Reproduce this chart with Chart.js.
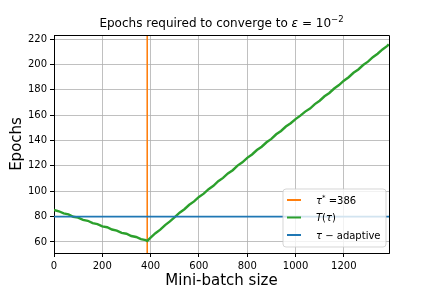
<!DOCTYPE html>
<html>
<head>
<meta charset="utf-8">
<script src="https://cdn.jsdelivr.net/npm/chart.js@4.4.0/dist/chart.umd.min.js"></script>
<style>
  html, body { margin: 0; padding: 0; background: #fff; }
  #wrap { width: 432px; height: 288px; }
</style>
</head>
<body>
<div id="wrap"><canvas id="chart" width="432" height="288"></canvas></div>
<script>
// values
const batchSizes = [0, 20, 40, 60, 80, 100, 120, 140, 160, 180, 200, 220, 240, 260, 280, 300, 320, 340, 360, 380, 386,
  400, 420, 440, 460, 480, 500, 520, 540, 560, 580, 600, 620, 640, 660, 680, 700, 720, 740, 760, 780, 800,
  820, 840, 860, 880, 900, 920, 940, 960, 980, 1000, 1020, 1040, 1060, 1080, 1100, 1120, 1140, 1160, 1180,
  1200, 1220, 1240, 1260, 1280, 1300, 1320, 1340, 1360, 1380, 1386];
const epochs = [85.3, 84.2, 82.5, 81.7, 79.9, 79.2, 77.4, 76.7, 74.8, 74.1, 72.3, 71.6, 69.8, 69.0, 67.2, 66.5, 64.7, 63.9, 62.2, 61.4, 60.8,
  63.4, 66.9, 69.7, 73.3, 76.2, 79.6, 83.1, 85.8, 89.3, 92.0, 95.5, 98.1, 101.6, 104.3, 107.9, 110.5, 114.0, 116.6, 120.2, 122.8, 126.3,
  129.0, 132.5, 135.1, 138.6, 141.3, 144.9, 147.5, 151.0, 153.6, 156.9, 159.6, 162.8, 165.2, 168.7, 171.4, 174.9, 177.5, 181.0, 183.7,
  187.2, 189.9, 193.4, 196.0, 199.5, 202.2, 205.7, 208.4, 211.8, 214.6, 215.8];
const tauStar = 386;
const adaptiveEpochs = 80;
const xRange = [0, 1387];
const yRange = [51.3, 223.2];
const xTicks = [0, 200, 400, 600, 800, 1000, 1200];
const yTicks = [60, 80, 100, 120, 140, 160, 180, 200, 220];

const FONT = "'DejaVu Sans', sans-serif";
const ORANGE = '#ff7f0e', GREEN = '#2ca02c', BLUE = '#1f77b4';

// draw a run of text pieces (for italics / superscripts)
function drawRich(ctx, parts, x, y, align) {
    const fontOf = p => (p.it ? 'italic ' : '') + (p.size || 10) + 'px ' + FONT;
    let total = 0;
    parts.forEach(p => { ctx.font = fontOf(p); total += ctx.measureText(p.t).width; });
    let cx = align === 'center' ? x - total / 2 : x;
    ctx.textAlign = 'left';
    ctx.textBaseline = 'alphabetic';
    parts.forEach(p => {
        ctx.font = fontOf(p);
        ctx.fillText(p.t, cx, y - (p.rise || 0));
        cx += ctx.measureText(p.t).width;
    });
}

const decorPlugin = {
    id: 'decor',
    afterDatasetsDraw(chart) {
        const { ctx, chartArea: a } = chart;
        ctx.save();
        // top + right spines
        ctx.strokeStyle = '#000';
        ctx.lineWidth = 1;
        ctx.beginPath();
        ctx.moveTo(a.left, a.top + 0.5);
        ctx.lineTo(a.right + 0.5, a.top + 0.5);
        ctx.lineTo(a.right + 0.5, a.bottom);
        ctx.stroke();

        // title
        ctx.fillStyle = '#000';
        drawRich(ctx, [
            { t: 'Epochs required to converge to ', size: 12 },
            { t: 'ε', size: 12, it: true },
            { t: ' = 10', size: 12 },
            { t: '−2', size: 8.5, rise: 5 }
        ], (a.left + a.right) / 2, 27, 'center');

        // legend box
        const bx = a.right - 106, by = a.bottom - 64, bw = 103, bh = 58;
        ctx.beginPath();
        ctx.roundRect(bx, by, bw, bh, 3);
        ctx.fillStyle = 'rgba(255,255,255,0.8)';
        ctx.fill();
        ctx.strokeStyle = 'rgba(204,204,204,0.8)';
        ctx.lineWidth = 1;
        ctx.stroke();

        const rows = [
            { color: ORANGE, parts: [{ t: 'τ', it: true }, { t: '*', size: 7, rise: 4 }, { t: ' =386' }] },
            { color: GREEN, parts: [{ t: 'T', it: true }, { t: '(' }, { t: 'τ', it: true }, { t: ')' }] },
            { color: BLUE, parts: [{ t: 'τ', it: true }, { t: ' − adaptive' }] }
        ];
        rows.forEach((r, i) => {
            const ry = by + 11 + i * 17.5;
            ctx.strokeStyle = r.color;
            ctx.lineWidth = 2;
            ctx.beginPath();
            ctx.moveTo(bx + 4, ry);
            ctx.lineTo(bx + 18, ry);
            ctx.stroke();
            ctx.fillStyle = '#000';
            drawRich(ctx, r.parts, bx + 33, ry + 3.6, 'left');
        });
        ctx.restore();
    }
};

const tickFont = { family: FONT, size: 10 };

new Chart(document.getElementById('chart'), {
    type: 'line',
    data: {
        datasets: [
            {
                label: 'tau*',
                data: [{ x: tauStar, y: yRange[0] }, { x: tauStar, y: yRange[1] }],
                borderColor: ORANGE,
                borderWidth: 1.6,
                order: 3
            },
            {
                label: 'T(tau)',
                data: batchSizes.map((b, i) => ({ x: b, y: epochs[i] })),
                borderColor: GREEN,
                borderWidth: 2.4,
                order: 2
            },
            {
                label: 'tau - adaptive',
                data: [{ x: xRange[0], y: adaptiveEpochs }, { x: xRange[1], y: adaptiveEpochs }],
                borderColor: BLUE,
                borderWidth: 1.8,
                order: 1
            }
        ]
    },
    options: {
        responsive: false,
        animation: false,
        events: [],
        devicePixelRatio: 1,
        layout: { padding: { left: 0, right: 43, top: 35, bottom: 0 } },
        elements: { point: { radius: 0 }, line: { tension: 0 } },
        scales: {
            x: {
                type: 'linear',
                min: xRange[0],
                max: xRange[1],
                afterBuildTicks: s => { s.ticks = xTicks.map(v => ({ value: v })); },
                afterFit: s => { s.height = 35; },
                ticks: { color: '#000', font: tickFont, padding: 3, maxRotation: 0, autoSkip: false, callback: v => String(v) },
                grid: { color: '#b0b0b0', lineWidth: 0.8, tickColor: '#000', tickLength: 4, tickWidth: 1 },
                border: { color: '#000', width: 1 },
                title: { display: true, text: 'Mini-batch size', color: '#000', font: { family: FONT, size: 15 }, padding: { top: 0, bottom: -2 } }
            },
            y: {
                type: 'linear',
                min: yRange[0],
                max: yRange[1],
                afterBuildTicks: s => { s.ticks = yTicks.map(v => ({ value: v })); },
                afterFit: s => { s.width = 54; },
                ticks: { color: '#000', font: tickFont, padding: 3, callback: v => String(v) },
                grid: { color: '#b0b0b0', lineWidth: 0.8, tickColor: '#000', tickLength: 4, tickWidth: 1 },
                border: { color: '#000', width: 1 },
                title: { display: true, text: 'Epochs', color: '#000', font: { family: FONT, size: 15 }, padding: { top: 8, bottom: 0 } }
            }
        },
        plugins: {
            legend: { display: false },
            title: { display: false },
            tooltip: { enabled: false }
        }
    },
    plugins: [decorPlugin]
});
</script>
</body>
</html>
